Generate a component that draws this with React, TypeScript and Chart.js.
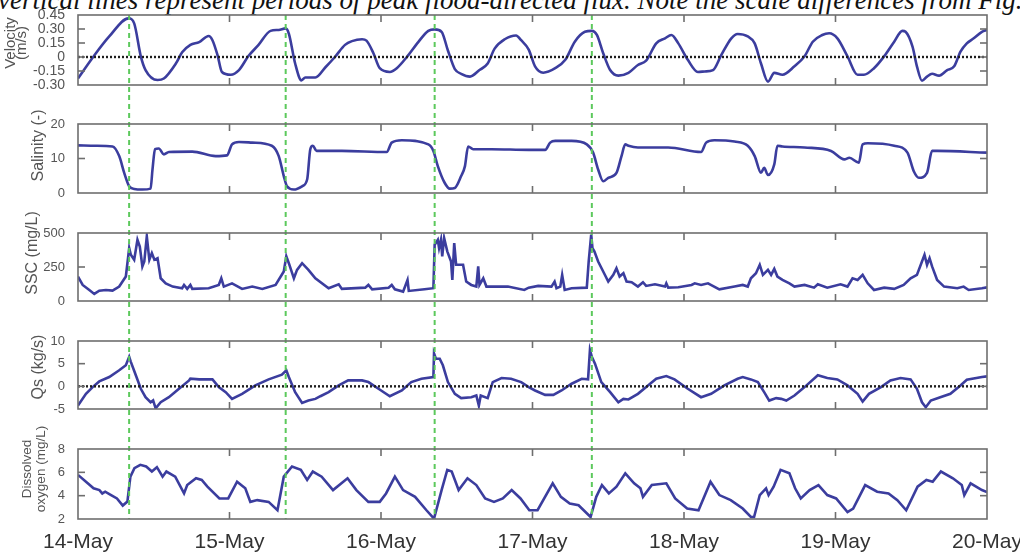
import React, { useEffect, useRef } from 'react';
import { Chart, registerables } from 'chart.js';

Chart.register(...registerables);

// ---------------- data ----------------
const captionText =
  'vertical lines represent periods of peak flood-directed flux. Note the scale differences from Fig. 5';

// x axis: hours since 14-May 00:00
const xTickHours = [0, 24, 48, 72, 96, 120, 144];
const xTickLabels = ['14-May', '15-May', '16-May', '17-May', '18-May', '19-May', '20-May'];
const peakFloodHours = [8.1, 32.9, 56.5, 81.4];

const velocityHours = [0, 2.4, 4.95, 8.0, 8.9, 9.95, 10.7, 12.6, 13.6, 15.5, 16.5, 17.8, 19.2, 20.7, 21.3, 22.1, 22.8, 24.2, 25.5, 27.0, 28.6, 30.5, 31.8, 32.9, 33.4, 34.4, 35.4, 36.0, 37.6, 39.2, 40.7, 42.3, 43.4, 45.0, 45.7, 46.8, 47.8, 49.4, 50.5, 52.1, 53.9, 55.5, 56.5, 57.6, 58.6, 59.7, 60.7, 62.1, 63.6, 64.9, 66.0, 67.6, 69.4, 70.2, 71.4, 72.4, 73.7, 75.6, 77.2, 78.7, 80.3, 81.4, 82.2, 83.2, 84.3, 85.6, 87.2, 88.7, 90.0, 91.6, 93.0, 94.0, 95.1, 96.6, 98.2, 99.3, 100.6, 101.9, 103.5, 104.5, 106.1, 107.2, 108.2, 109.3, 110.3, 111.6, 113.5, 115.1, 116.4, 117.9, 119.0, 120.3, 121.9, 123.5, 124.5, 126.1, 127.7, 129.3, 130.6, 131.1, 132.2, 132.9, 133.7, 134.5, 135.3, 136.4, 137.7, 138.8, 139.8, 140.8, 141.9, 143.2, 144];
const velocityValues = [-0.23, 0.0, 0.22, 0.414, 0.36, 0.007, -0.14, -0.246, -0.23, -0.07, 0.05, 0.13, 0.16, 0.225, 0.18, 0.02, -0.16, -0.19, -0.14, 0.01, 0.13, 0.28, 0.29, 0.307, 0.25, -0.07, -0.25, -0.22, -0.22, -0.11, 0.0, 0.13, 0.17, 0.19, 0.175, 0.04, -0.12, -0.16, -0.12, 0.0, 0.16, 0.28, 0.296, 0.27, 0.07, -0.13, -0.18, -0.21, -0.14, -0.07, 0.09, 0.19, 0.23, 0.18, 0.08, -0.1, -0.168, -0.12, -0.03, 0.164, 0.27, 0.28, 0.236, 0.04, -0.14, -0.2, -0.17, -0.086, -0.04, 0.146, 0.2, 0.236, 0.146, -0.03, -0.16, -0.155, -0.14, 0.02, 0.2, 0.246, 0.22, 0.146, -0.07, -0.264, -0.17, -0.19, -0.1, 0.007, 0.164, 0.236, 0.254, 0.2, 0.007, -0.19, -0.19, -0.12, 0.007, 0.164, 0.28, 0.27, 0.11, -0.1, -0.254, -0.21, -0.18, -0.2, -0.14, -0.1, 0.057, 0.146, 0.2, 0.27, 0.29];

const salinityHours = [0, 2.84, 5.48, 6.53, 7.32, 8.11, 8.9, 10.2, 11.5, 11.8, 12.2, 12.8, 13.6, 14.4, 18.1, 21.8, 23.6, 24.4, 25.5, 27.6, 30.7, 31.8, 32.6, 33.1, 34.2, 35.5, 36.3, 36.8, 37.2, 37.8, 41.8, 48.9, 49.7, 51.3, 55.5, 56.3, 57.0, 58.1, 58.9, 59.7, 60.7, 61.3, 61.8, 62.6, 65.5, 71.4, 74.0, 74.8, 75.6, 78.2, 80.6, 81.6, 82.4, 83.2, 84.0, 85.3, 86.1, 86.7, 87.2, 88.7, 93.5, 98.7, 99.5, 100.8, 104.0, 106.1, 107.2, 108.2, 108.7, 109.3, 110.3, 110.8, 111.6, 115.1, 119.3, 121.4, 122.2, 123.7, 124.3, 125.1, 129.3, 131.4, 132.4, 133.2, 134.5, 135.3, 136.1, 144];
const salinityValues = [13.8, 13.7, 13.5, 10.7, 5.85, 1.95, 1.17, 1.0, 1.27, 6.8, 12.7, 12.9, 11.2, 11.9, 12.0, 10.7, 10.9, 14.1, 14.8, 14.6, 13.7, 10.7, 4.9, 1.95, 1.0, 1.95, 3.9, 12.7, 13.7, 12.2, 12.2, 11.9, 14.6, 15.3, 14.1, 12.2, 7.8, 2.9, 1.27, 1.46, 4.9, 7.8, 13.5, 12.7, 12.7, 12.5, 12.5, 14.6, 15.1, 15.1, 14.1, 11.7, 6.8, 3.4, 4.4, 5.85, 10.7, 14.1, 13.7, 13.2, 13.2, 11.9, 14.6, 15.3, 14.9, 13.7, 10.7, 5.85, 7.3, 5.2, 8.3, 13.7, 13.5, 13.2, 12.2, 9.75, 10.2, 8.8, 14.1, 14.4, 13.7, 11.7, 6.3, 4.4, 5.85, 12.2, 12.2, 11.7];

const sscHours = [0, 0.74, 1.79, 2.58, 3.37, 4.42, 5.47, 6.53, 7.58, 8.11, 8.37, 8.9, 9.42, 9.79, 10.2, 10.5, 10.9, 11.3, 11.7, 12.1, 12.6, 13.1, 13.9, 15.0, 16.5, 16.8, 17.3, 17.8, 18.1, 20.7, 22.3, 22.7, 23.1, 24.4, 26.0, 27.6, 29.2, 31.3, 32.6, 33.0, 33.4, 34.2, 34.7, 35.5, 36.5, 37.6, 39.7, 41.3, 41.8, 45.5, 46.0, 46.6, 49.2, 49.7, 50.2, 51.5, 52.2, 52.4, 54.9, 56.3, 56.5, 57.0, 57.2, 57.5, 57.7, 58.0, 58.5, 59.1, 59.3, 59.6, 59.9, 61.0, 61.5, 62.3, 63.1, 63.4, 63.6, 64.2, 64.7, 66.0, 68.1, 70.7, 71.4, 72.9, 75.0, 75.5, 75.8, 76.4, 76.7, 77.1, 78.2, 80.6, 80.9, 81.3, 81.5, 81.8, 82.4, 83.2, 84.0, 84.8, 85.3, 85.8, 86.4, 86.9, 87.7, 88.7, 89.5, 90.0, 91.4, 93.0, 93.2, 93.5, 95.1, 97.2, 97.7, 98.7, 99.8, 101.6, 104.0, 105.3, 106.1, 106.6, 107.4, 108.0, 108.5, 109.3, 109.8, 110.3, 110.8, 111.6, 112.7, 113.5, 115.1, 116.6, 117.2, 118.7, 120.8, 121.9, 122.7, 123.5, 124.3, 125.1, 126.1, 127.7, 129.3, 130.8, 131.9, 132.9, 133.7, 134.1, 134.5, 134.9, 135.3, 136.1, 137.2, 139.3, 140.3, 141.1, 143.2, 144];
const sscValues = [180, 118, 81, 52, 76, 81, 76, 106, 180, 389, 340, 303, 450, 401, 254, 290, 475, 303, 352, 303, 315, 167, 130, 106, 94, 118, 89, 118, 89, 94, 118, 167, 106, 130, 89, 106, 89, 118, 217, 328, 278, 167, 229, 278, 229, 167, 94, 123, 89, 98, 118, 86, 98, 118, 86, 69, 155, 74, 86, 94, 414, 450, 389, 450, 328, 463, 365, 290, 155, 426, 266, 266, 143, 118, 106, 254, 118, 167, 106, 106, 106, 81, 98, 111, 106, 143, 94, 106, 192, 81, 94, 98, 290, 488, 389, 365, 290, 217, 143, 192, 241, 180, 204, 143, 138, 106, 138, 111, 123, 106, 130, 98, 101, 118, 130, 118, 130, 86, 106, 118, 106, 167, 204, 266, 192, 229, 192, 236, 180, 155, 130, 106, 118, 98, 123, 98, 123, 106, 167, 155, 192, 130, 81, 98, 89, 118, 167, 192, 290, 340, 266, 315, 254, 155, 106, 94, 106, 81, 94, 100];

const qsHours = [0, 1.26, 2.32, 3.37, 4.95, 6.53, 7.58, 8.11, 8.37, 9.16, 9.95, 10.7, 11.5, 11.9, 12.3, 13.1, 14.4, 16.0, 17.6, 17.8, 19.2, 21.3, 22.3, 23.4, 24.4, 26.0, 28.1, 30.2, 32.3, 33.0, 33.4, 34.4, 35.5, 36.5, 37.6, 38.4, 39.7, 41.3, 42.8, 45.0, 46.0, 47.6, 49.4, 51.3, 52.8, 54.4, 56.3, 56.4, 56.7, 57.3, 57.8, 58.6, 59.7, 60.7, 62.3, 63.1, 63.5, 63.8, 64.9, 65.7, 67.1, 68.6, 70.2, 71.4, 72.4, 74.0, 75.3, 76.6, 78.2, 79.8, 80.8, 81.1, 81.4, 81.9, 82.9, 84.3, 85.6, 86.4, 87.2, 88.7, 90.3, 91.6, 93.2, 94.5, 96.6, 98.7, 100.3, 102.4, 104.5, 105.3, 106.6, 107.7, 108.7, 109.5, 110.6, 111.4, 112.2, 113.5, 115.1, 117.2, 118.7, 120.3, 121.9, 123.5, 124.3, 125.3, 127.2, 128.7, 130.3, 131.9, 132.9, 133.7, 134.3, 135.1, 136.6, 138.2, 139.8, 140.8, 143.2, 144];
const qsValues = [-4.26, -1.66, -0.17, 1.09, 2.05, 3.54, 4.65, 6.5, 5.4, 2.43, -0.54, -2.4, -3.5, -3.1, -4.85, -3.5, -2.4, -0.54, 1.31, 1.68, 1.53, 1.53, -0.17, -1.29, -2.77, -1.66, 0.2, 1.53, 2.57, 3.54, 2.05, -1.29, -3.66, -3.14, -2.77, -2.18, -1.29, 0.2, 1.31, 1.31, 0.94, -0.54, -2.18, -0.91, 0.94, 1.68, 2.05, 7.25, 6.1, 6.1, 4.65, 0.94, -1.66, -2.6, -2.4, -2.03, -4.26, -2.03, -2.6, 0.94, 1.83, 1.68, 0.94, -0.17, -0.91, -1.88, -1.88, -0.91, 0.57, 1.68, 1.53, 8.0, 6.5, 5.0, 0.94, -1.29, -3.51, -2.77, -2.9, -1.66, 0.2, 1.68, 2.28, 1.53, -0.54, -2.4, -1.66, 0.2, 1.68, 2.05, 1.53, 0.94, -1.29, -3.14, -2.6, -2.77, -3.14, -2.03, -0.17, 2.43, 1.83, 1.53, 0.2, -1.66, -3.37, -1.66, -0.17, 1.31, 1.83, 1.53, -0.54, -3.51, -4.6, -3.14, -2.4, -1.66, 0.2, 1.46, 2.05, 2.2];

const oxygenHours = [0, 1.54, 2.46, 3.39, 3.85, 4.31, 5.24, 6.17, 7.09, 7.83, 8.3, 8.94, 9.87, 10.8, 11.7, 12.5, 13.4, 14.0, 15.4, 16.8, 17.3, 18.7, 19.6, 20.5, 22.4, 23.8, 25.2, 26.5, 27.3, 28.4, 30.2, 31.6, 32.6, 33.9, 35.3, 36.3, 37.2, 38.6, 40.4, 42.7, 44.1, 46.0, 47.8, 48.8, 50.2, 51.5, 53.4, 55.2, 56.4, 57.6, 58.5, 59.2, 60.3, 61.7, 63.1, 64.5, 65.9, 67.3, 68.7, 70.1, 71.5, 72.8, 75.2, 76.5, 77.9, 79.3, 81.2, 82.1, 83.0, 84.1, 85.3, 86.7, 88.1, 89.1, 89.5, 90.9, 93.2, 94.6, 96.5, 98.3, 100.2, 101.6, 103.4, 105.3, 106.6, 107.1, 108.0, 109.0, 109.4, 110.2, 111.3, 112.7, 113.6, 114.5, 115.9, 117.3, 118.7, 120.1, 121.9, 122.8, 124.7, 126.6, 128.4, 129.8, 131.2, 133.0, 134.4, 135.4, 136.7, 138.6, 140.0, 140.4, 141.4, 143.2, 144];
const oxygenValues = [5.78, 5.06, 4.63, 4.48, 4.19, 4.34, 4.05, 3.76, 3.15, 3.5, 5.63, 6.36, 6.64, 6.5, 6.07, 6.44, 5.63, 6.07, 5.63, 4.19, 4.91, 5.49, 5.35, 4.77, 3.76, 3.76, 5.2, 4.63, 3.47, 3.62, 3.47, 2.75, 5.63, 6.5, 6.21, 5.35, 6.07, 5.63, 4.48, 5.49, 4.48, 3.47, 3.47, 4.19, 5.63, 4.48, 3.9, 2.75, 2.03, 4.48, 6.21, 6.07, 4.48, 5.49, 4.91, 3.76, 3.47, 3.76, 4.48, 3.76, 2.75, 2.75, 5.06, 3.9, 3.33, 3.18, 2.17, 3.9, 4.91, 4.19, 4.77, 5.92, 5.06, 4.63, 3.9, 4.91, 5.06, 3.76, 2.9, 2.75, 5.2, 4.05, 3.62, 2.9, 2.17, 2.17, 4.05, 4.63, 4.05, 4.77, 6.21, 5.92, 4.63, 3.76, 4.48, 4.91, 4.05, 3.76, 2.6, 2.9, 4.91, 4.34, 4.19, 3.62, 2.75, 4.77, 5.35, 5.2, 6.07, 5.49, 4.91, 4.05, 5.06, 4.48, 4.3];

const velocityTicks = [-0.3, -0.15, 0, 0.15, 0.3, 0.45];
const velocityTickLabels = ['-0.30', '-0.15', '0', '0.15', '0.30', '0.45'];
const salinityTicks = [0, 10, 20];
const salinityTickLabels = ['0', '10', '20'];
const sscTicks = [0, 250, 500];
const sscTickLabels = ['0', '250', '500'];
const qsTicks = [-5, 0, 5, 10];
const qsTickLabels = ['-5', '0', '5', '10'];
const oxygenTicks = [2, 4, 6, 8];
const oxygenTickLabels = ['2', '4', '6', '8'];

const panels = [
  { hours: velocityHours, values: velocityValues, ticks: velocityTicks, tickLabels: velocityTickLabels, title: ['Velocity', '(m/s)'], zeroLine: true, smooth: true },
  { hours: salinityHours, values: salinityValues, ticks: salinityTicks, tickLabels: salinityTickLabels, title: ['Salinity (-)'], zeroLine: false, smooth: true },
  { hours: sscHours, values: sscValues, ticks: sscTicks, tickLabels: sscTickLabels, title: ['SSC (mg/L)'], zeroLine: false, smooth: false },
  { hours: qsHours, values: qsValues, ticks: qsTicks, tickLabels: qsTickLabels, title: ['Qs (kg/s)'], zeroLine: true, smooth: false },
  { hours: oxygenHours, values: oxygenValues, ticks: oxygenTicks, tickLabels: oxygenTickLabels, title: ['Dissolved', 'oxygen (mg/L)'], zeroLine: false, smooth: false },
];

// ---------------- layout / style ----------------
const W = 1020;
const H = 555;
const PLOT_LEFT = 78;
const PLOT_RIGHT = 987;
const PANEL_TOP = [15, 124, 233, 341, 449];
const PANEL_BOTTOM = [85, 193, 301, 409, 519];
const BELOW = 10;
const TITLE_STYLE = [
  { size: 15, xs: [10.5, 21.5], dy: -7 },
  { size: 16, xs: [39], dy: -13 },
  { size: 16, xs: [33], dy: -14 },
  { size: 16, xs: [38.5], dy: -8 },
  { size: 13.5, xs: [27.5, 41], dy: -15 },
];
const TICK_FONT = [
  { family: '"Liberation Sans Narrow", "Liberation Sans", Arial, sans-serif', size: 14 },
  { family: '"Liberation Sans", Arial, sans-serif', size: 13 },
  { family: '"Liberation Sans", Arial, sans-serif', size: 13 },
  { family: '"Liberation Sans", Arial, sans-serif', size: 13 },
  { family: '"Liberation Sans", Arial, sans-serif', size: 13 },
];
const BLUE = '#3b3d9e';
const GREEN = '#5cc95c';
const FRAME = '#6e6e6e';
const SANS = '"Liberation Sans", Arial, sans-serif';

function makeFramePlugin(i: number) {
  const panel = panels[i];
  const ts = TITLE_STYLE[i];
  const first = i === 0;
  const last = i === panels.length - 1;
  return {
    id: 'panelFrame' + i,
    afterDatasetsDraw(chart: any) {
      const { ctx, chartArea: a } = chart;
      const xs = chart.scales.x;
      const ys = chart.scales.y;
      ctx.save();
      // peak flood lines
      ctx.strokeStyle = GREEN;
      ctx.lineWidth = 2;
      ctx.setLineDash([5, 4]);
      peakFloodHours.forEach((h) => {
        const px = xs.getPixelForValue(h);
        ctx.beginPath();
        ctx.moveTo(px, first ? a.top : 0);
        ctx.lineTo(px, last ? a.bottom : chart.height);
        ctx.stroke();
      });
      ctx.setLineDash([]);
      // frame
      ctx.strokeStyle = FRAME;
      ctx.lineWidth = 1.6;
      ctx.strokeRect(a.left, a.top, a.right - a.left, a.bottom - a.top);
      // inward ticks
      const seg = (x1: number, y1: number, x2: number, y2: number) => {
        ctx.beginPath();
        ctx.moveTo(x1, y1);
        ctx.lineTo(x2, y2);
        ctx.stroke();
      };
      xTickHours.forEach((h) => {
        if (h <= xs.min || h >= xs.max) return;
        const px = xs.getPixelForValue(h);
        seg(px, a.top, px, a.top + 7);
        seg(px, a.bottom, px, a.bottom - 7);
      });
      panel.ticks.forEach((v) => {
        if (v <= ys.min || v >= ys.max) return;
        const py = ys.getPixelForValue(v);
        seg(a.left, py, a.left + 7, py);
        seg(a.right, py, a.right - 7, py);
      });
      // axis title
      ctx.fillStyle = '#555';
      ctx.font = `${ts.size}px ${SANS}`;
      ctx.textAlign = 'center';
      ctx.textBaseline = 'middle';
      const cy = (a.top + a.bottom) / 2 + ts.dy;
      panel.title.forEach((line, k) => {
        ctx.save();
        ctx.translate(ts.xs[k], cy);
        ctx.rotate(-Math.PI / 2);
        ctx.fillText(line, 0, 0);
        ctx.restore();
      });
      ctx.restore();
    },
  };
}

function canvasBox(i: number) {
  const last = i === panels.length - 1;
  const top = i === 0 ? 0 : PANEL_BOTTOM[i - 1] + BELOW;
  const bottom = last ? H : PANEL_BOTTOM[i] + BELOW;
  return { top, height: bottom - top };
}

export default function App() {
  const refs = useRef<(HTMLCanvasElement | null)[]>([]);

  useEffect(() => {
    const charts: Chart[] = [];
    panels.forEach((panel, i) => {
      const canvas = refs.current[i];
      if (!canvas) return;
      const last = i === panels.length - 1;
      const box = canvasBox(i);
      const datasets: any[] = [
        {
          data: panel.hours.map((h, k) => ({ x: h, y: panel.values[k] })),
          borderColor: BLUE,
          borderWidth: 2.6,
          pointRadius: 0,
          tension: panel.smooth ? 0.4 : 0,
          cubicInterpolationMode: panel.smooth ? 'monotone' : 'default',
          order: 1,
        },
      ];
      if (panel.zeroLine) {
        datasets.push({
          data: [
            { x: xTickHours[0], y: 0 },
            { x: xTickHours[xTickHours.length - 1], y: 0 },
          ],
          borderColor: '#1e1e1e',
          borderWidth: 2.4,
          borderDash: [2, 2],
          pointRadius: 0,
          order: 0,
        });
      }
      const chart = new Chart(canvas, {
        type: 'line',
        data: { datasets },
        options: {
          responsive: false,
          maintainAspectRatio: false,
          animation: false,
          events: [],
          layout: {
            padding: {
              top: PANEL_TOP[i] - box.top,
              bottom: last ? 0 : BELOW,
              left: 0,
              right: W - PLOT_RIGHT,
            },
          },
          plugins: { legend: { display: false }, tooltip: { enabled: false } },
          scales: {
            x: {
              type: 'linear',
              min: xTickHours[0],
              max: xTickHours[xTickHours.length - 1],
              display: last,
              grid: { display: false },
              border: { display: false },
              afterBuildTicks: (s: any) => {
                s.ticks = xTickHours.map((v) => ({ value: v }));
              },
              afterFit: (s: any) => {
                s.height = last ? H - PANEL_BOTTOM[i] : 0;
                s.paddingLeft = 0;
                s.paddingRight = 0;
              },
              ticks: {
                autoSkip: false,
                maxRotation: 0,
                minRotation: 0,
                padding: 3,
                color: '#333',
                font: { family: SANS, size: 21 },
                callback: (_v: any, idx: number) => xTickLabels[idx],
              },
            },
            y: {
              type: 'linear',
              min: panel.ticks[0],
              max: panel.ticks[panel.ticks.length - 1],
              grid: { display: false },
              border: { display: false },
              afterBuildTicks: (s: any) => {
                s.ticks = panel.ticks.map((v) => ({ value: v }));
              },
              afterFit: (s: any) => {
                s.width = PLOT_LEFT;
                s.paddingTop = 0;
                s.paddingBottom = 0;
              },
              ticks: {
                autoSkip: false,
                padding: 5,
                color: '#555',
                font: { ...TICK_FONT[i], lineHeight: 1 },
                callback: (_v: any, idx: number) => panel.tickLabels[idx],
              },
            },
          },
        },
        plugins: [makeFramePlugin(i)],
      } as any);
      charts.push(chart);
    });
    return () => charts.forEach((c) => c.destroy());
  }, []);

  return (
    <div
      style={{
        position: 'absolute',
        left: 0,
        top: 0,
        width: W,
        height: H,
        overflow: 'hidden',
        background: '#fff',
      }}
    >
      <div
        style={{
          position: 'absolute',
          left: -2,
          top: -13,
          whiteSpace: 'nowrap',
          font: 'italic 27px "Liberation Serif", "Times New Roman", serif',
          lineHeight: '27px',
          color: '#111',
        }}
      >
        {captionText}
      </div>
      {panels.map((_, i) => {
        const box = canvasBox(i);
        return (
          <canvas
            key={i}
            ref={(el) => {
              refs.current[i] = el;
            }}
            width={W}
            height={box.height}
            style={{ position: 'absolute', left: 0, top: box.top, width: W, height: box.height }}
          />
        );
      })}
    </div>
  );
}
